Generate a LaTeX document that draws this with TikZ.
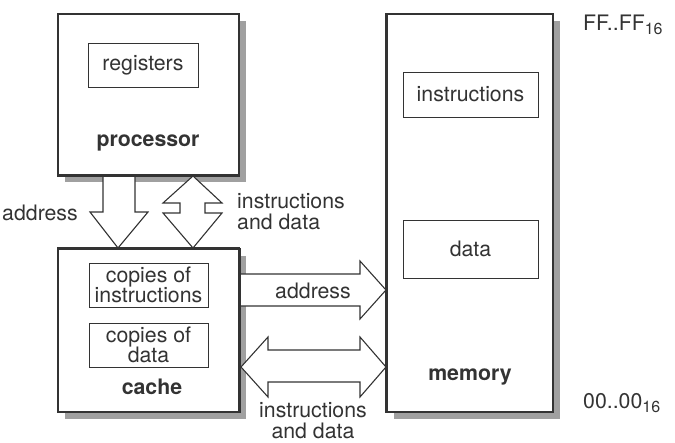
\documentclass[tikz,border=0pt]{standalone}
\usepackage{fontspec}
\setmainfont{TeX Gyre Heros}
\definecolor{ink}{HTML}{333333}
\definecolor{shade}{HTML}{A0A0A0}
\newcommand{\hexsub}[1]{\raisebox{-4pt}{\fontsize{16}{16}\selectfont #1}}
\begin{document}
\begin{tikzpicture}[x=1pt,y=-1pt,
  font=\fontsize{21.3}{21}\selectfont, text=ink,
  bigbox/.style={draw=ink, line width=1.8pt, fill=white, inner sep=0pt},
  smallbox/.style={draw=ink, line width=1pt, fill=white, inner sep=0pt, align=center},
  shadowbox/.style={fill=shade, draw=none, inner sep=0pt},
  arrowshape/.style={draw=ink, line width=1.1pt, fill=white, line join=miter},
  lbl/.style={inner sep=0pt, align=center}]
\useasboundingbox (0,0) rectangle (675,442);
% shadows
\node[shadowbox, minimum width=181pt, minimum height=161pt] (procsh) at (155,101) {};
\node[shadowbox, minimum width=181pt, minimum height=163pt] (cachesh) at (155,337) {};
\node[shadowbox, minimum width=166pt, minimum height=398pt] (memsh) at (477,219.5) {};
% main boxes
\node[bigbox, minimum width=181pt, minimum height=161pt] (proc) at (148.5,94.5) {};
\node[bigbox, minimum width=181pt, minimum height=163pt] (cache) at (148.5,330.5) {};
\node[bigbox, minimum width=166pt, minimum height=398pt] (mem) at (470,213) {};
% inner boxes
\node[smallbox, minimum width=110pt, minimum height=44pt] (reg) at (143,65) {registers};
\node[smallbox, minimum width=119pt, minimum height=44pt] (cins) at (148.5,285) {copies of\\[-1pt]instructions};
\node[smallbox, minimum width=119pt, minimum height=44pt] (cdat) at (148.5,345) {copies of\\[-1pt]data};
\node[smallbox, minimum width=135pt, minimum height=45pt] (mins) at (470.5,94.5) {instructions};
\node[smallbox, minimum width=135pt, minimum height=58pt] (mdat) at (470.5,249) {data};
% box titles
\node[lbl, font=\fontsize{21.3}{21}\selectfont\bfseries] (proct) at (148,143) {processor};
\node[lbl, font=\fontsize{21.3}{21}\selectfont\bfseries] (cachet) at (152,387) {cache};
\node[lbl, font=\fontsize{21.3}{21}\selectfont\bfseries] (memt) at (470,377) {memory};
% address range
\node[lbl, anchor=west] (ff) at (583,25) {FF..FF\hexsub{16}};
\node[lbl, anchor=west] (zz) at (583,403) {00..00\hexsub{16}};
% processor -> cache address arrow
\draw[arrowshape] (103,176) -- (103,212) -- (90,212) -- (118,248) -- (148,212) -- (135,212) -- (135,176);
% processor <-> cache instructions and data
\draw[arrowshape] (193,176) -- (222,203) -- (205,203) -- (205,213) -- (222,213) -- (193,248)
  -- (163,213) -- (180,213) -- (180,203) -- (163,203) -- cycle;
% cache -> memory address
\draw[arrowshape] (240,274) -- (360,274) -- (360,261) -- (386,290) -- (360,319) -- (360,306) -- (240,306);
% cache <-> memory instructions and data
\draw[arrowshape] (241,367) -- (268,337) -- (268,350) -- (360,350) -- (360,337) -- (386,367)
  -- (360,397) -- (360,382) -- (268,382) -- (268,397) -- cycle;
% redraw borders on top of arrow ends
\draw[draw=ink, line width=1.8pt] (proc.south west) -- (proc.south east);
\draw[draw=ink, line width=1.8pt] (cache.north west) -- (cache.north east);
\draw[draw=ink, line width=1.8pt] (cache.north east) -- (cache.south east);
\draw[draw=ink, line width=1.8pt] (mem.north west) -- (mem.south west);
% arrow labels
\node[lbl] (la1) at (40,213) {address};
\node[lbl, anchor=west, align=left] (la2) at (237,212) {instructions\\and data};
\node[lbl] (la3) at (313,291) {address};
\node[lbl] (la4) at (313,421) {instructions\\and data};
\end{tikzpicture}
\end{document}
